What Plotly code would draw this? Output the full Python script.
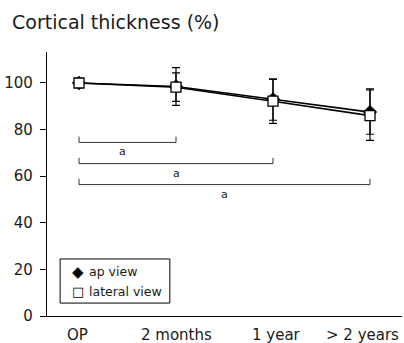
import plotly.graph_objects as go

categories = ["OP", "2 months", "1 year", "> 2 years"]
ap_values = [100, 98.5, 93, 87.5]
ap_err_plus = [0.8, 8.1, 8.7, 10.0]
ap_err_minus = [0.8, 8.1, 9.0, 9.5]
lat_values = [100, 98.2, 92.2, 86.0]
lat_err_plus = [0.5, 6.1, 9.5, 11.0]
lat_err_minus = [0.5, 6.1, 9.5, 10.6]
y_ticks = [0, 20, 40, 60, 80, 100]

bracket_from = ["OP", "OP", "OP"]
bracket_to = ["2 months", "1 year", "> 2 years"]
bracket_y = [74.5, 65.4, 56.4]
bracket_labels = ["a", "a", "a"]
bracket_label_x = [0.45, 1.0, 1.5]

legend_names = ["ap view", "lateral view"]
legend_glyphs = ["◆", "□"]

FONT = "DejaVu Sans, sans-serif"
TXT = "#1a1a1a"

fig = go.Figure()

for b0, b1, by in zip(bracket_from, bracket_to, bracket_y):
    fig.add_trace(go.Scatter(
        x=[b0, b0, b1, b1], y=[by + 2.5, by, by, by + 2.5],
        mode="lines", line=dict(color="#333333", width=1),
        showlegend=False, hoverinfo="skip"))

fig.add_trace(go.Scatter(
    x=categories, y=ap_values, mode="lines+markers", name="ap view",
    line=dict(color="black", width=1.6),
    marker=dict(symbol="diamond", size=11, color="black"),
    error_y=dict(type="data", array=ap_err_plus, arrayminus=ap_err_minus,
                 color="black", thickness=1.2, width=4),
    showlegend=False))
fig.add_trace(go.Scatter(
    x=categories, y=lat_values, mode="lines+markers", name="lateral view",
    line=dict(color="black", width=1.6),
    marker=dict(symbol="square", size=10, color="white",
                line=dict(color="black", width=1.3)),
    error_y=dict(type="data", array=lat_err_plus, arrayminus=lat_err_minus,
                 color="black", thickness=1.2, width=4),
    showlegend=False))

annotations = []
for lx, by, lab in zip(bracket_label_x, bracket_y, bracket_labels):
    annotations.append(dict(x=lx, y=by, text=lab, showarrow=False,
                            yanchor="top", yshift=-1,
                            font=dict(family=FONT, size=11, color=TXT)))

# x category labels (last one nudged left to stay inside the page, as in the reference)
label_xshift = [-2, 0, 3, -7]
for cat, xs in zip(categories, label_xshift):
    annotations.append(dict(x=cat, y=0, yref="paper", text=cat, showarrow=False,
                            xanchor="center", yanchor="top", yshift=-8, xshift=xs,
                            font=dict(family=FONT, size=15, color=TXT)))

# manual legend box
leg_x0, leg_x1, leg_y0, leg_y1 = 0.037, 0.346, 0.049, 0.216
row_y = [0.167, 0.091]
glyph_sizes = [15, 13]
for name, glyph, gs, ry in zip(legend_names, legend_glyphs, glyph_sizes, row_y):
    annotations.append(dict(xref="paper", yref="paper", x=0.087, y=ry, text=glyph,
                            showarrow=False, xanchor="center", yanchor="middle",
                            font=dict(family=FONT, size=gs, color="black")))
    annotations.append(dict(xref="paper", yref="paper", x=0.112, y=ry, text=name,
                            showarrow=False, xanchor="left", yanchor="middle",
                            font=dict(family=FONT, size=12.5, color=TXT)))

fig.update_layout(
    width=404, height=343,
    margin=dict(l=47, r=2, t=52, b=27),
    paper_bgcolor="white", plot_bgcolor="white",
    showlegend=False,
    title=dict(text="Cortical thickness (%)", x=12/404, xanchor="left",
               xref="container", y=1 - 22/343, yanchor="middle",
               font=dict(family=FONT, size=19, color=TXT)),
    xaxis=dict(type="category", categoryorder="array", categoryarray=categories,
               range=[-0.33, 3.33], showline=True, linecolor="black", linewidth=1.3,
               showgrid=False, zeroline=False, ticks="", showticklabels=False,
               automargin=False),
    yaxis=dict(range=[0, 113.3], tickvals=y_ticks, showline=True, linecolor="black",
               linewidth=1.3, showgrid=False, zeroline=False, ticks="outside",
               ticklen=6, tickwidth=1, tickcolor="black", automargin=False,
               ticklabelstandoff=4,
               tickfont=dict(family=FONT, size=15, color=TXT)),
    shapes=[dict(type="rect", xref="paper", yref="paper", x0=leg_x0, x1=leg_x1,
                 y0=leg_y0, y1=leg_y1, line=dict(color="black", width=1),
                 fillcolor="white", layer="below")],
    annotations=annotations,
)

fig.write_html("out.html", config={"displayModeBar": False},
               post_script="document.body.style.margin='0';document.body.style.overflow='hidden';")
